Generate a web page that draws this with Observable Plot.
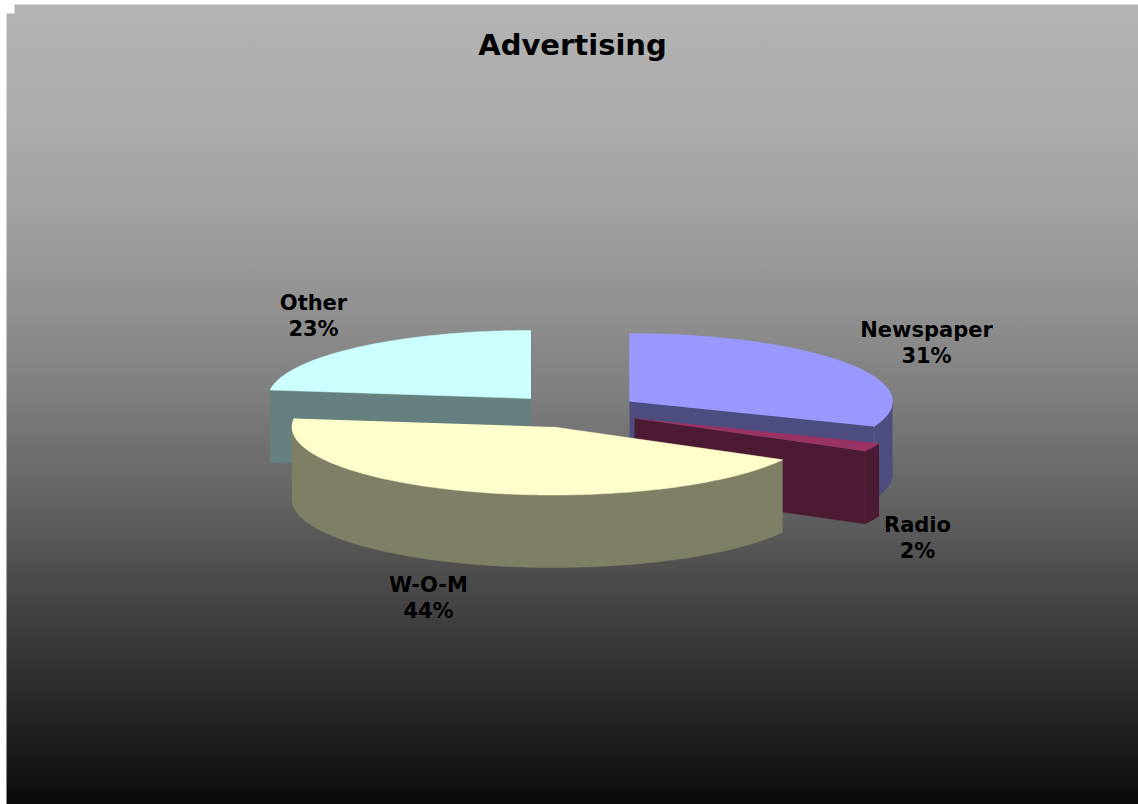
<!DOCTYPE html>
<html>
<head>
<meta charset="utf-8">
<title>Advertising</title>
<style>
  html, body { margin: 0; padding: 0; background: #fff; overflow: hidden; }
  svg { display: block; }
</style>
<script src="https://cdn.jsdelivr.net/npm/d3@7"></script>
<script src="https://cdn.jsdelivr.net/npm/@observablehq/plot@0.6"></script>
</head>
<body>
<script>
// Share of advertising channels, clockwise from twelve o'clock.
const channels = ["Newspaper", "Radio", "W-O-M", "Other"];
const shares = [31, 2, 44, 23];
const topColors = ["#9999ff", "#993366", "#ffffcc", "#ccffff"];
const sideColors = ["#4d4d80", "#4d1a33", "#7f7f66", "#668080"];
const creaseColors = ["#70709a", "#6b3450", "#7f7f66", "#668080"];

// Tilted-disc geometry: each wedge is pulled away from the middle on its own centre.
const width = 1138, height = 804;
const radiusX = 263, radiusY = 68, depth = 72.5;
const wedgeCentres = [[629, 401], [634, 418], [553, 426.5], [530.5, 398]];
const wedgeRadiiX = [radiusX, radiusX, 261.5, radiusX];
const labelAnchors = [[926, 341], [917, 536], [428, 596], [313, 314]];

// Backdrop shading as grey levels down the panel.
const shadeLevels = [[4, "#b3b3b3"], [100, "#aeaeae"], [200, "#a3a3a3"], [300, "#929292"],
  [400, "#7d7d7d"], [500, "#636363"], [600, "#454545"], [700, "#292929"], [804, "#0a0a0a"]];

const wedges = d3.pie().sort(null).startAngle(0).endAngle(2 * Math.PI)(shares);

const faces = [];
function addFace(id, color, points) {
  for (const [x, y] of points) faces.push({id, color, x, y});
}
function rim(i, a) {
  const [cx, cy] = wedgeCentres[i];
  return [cx + wedgeRadiiX[i] * Math.sin(a), cy - radiusY * Math.cos(a)];
}
function arc(i, a0, a1) {
  const n = Math.max(2, Math.ceil((a1 - a0) * 60));
  return d3.range(n + 1).map(k => rim(i, a0 + (a1 - a0) * k / n));
}
const lowered = ([x, y]) => [x, y + depth];

// Painter's order: back wedges first, and in each wedge walls under the top.
[3, 0, 1, 2].forEach(i => {
  const {startAngle: a0, endAngle: a1} = wedges[i];
  const c = wedgeCentres[i];
  const side = sideColors[i];
  if (Math.sin(a1) > 0) {
    addFace(`${i}-end`, side, [c, rim(i, a1), lowered(rim(i, a1)), lowered(c)]);
  }
  if (Math.sin(a0) < 0) {
    addFace(`${i}-start`, side, [c, rim(i, a0), lowered(rim(i, a0)), lowered(c)]);
  }
  // Only the near half of the rim faces the viewer.
  const from = Math.max(a0, Math.PI / 2), to = Math.min(a1, 3 * Math.PI / 2);
  if (from < to) {
    const edge = arc(i, from, to);
    addFace(`${i}-rim`, side, [...edge, ...edge.map(lowered).reverse()]);
    if (Math.sin(a1) > 0) {
      // Thin highlight where the end wall meets the rim.
      addFace(`${i}-crease`, creaseColors[i], [rim(i, a1), lowered(rim(i, a1))]);
    }
  }
  addFace(`${i}-top`, topColors[i], [c, ...arc(i, a0, a1)]);
});

const labels = channels.map((name, i) => ({
  text: `${name}\n${shares[i]}%`,
  x: labelAnchors[i][0],
  y: labelAnchors[i][1]
}));

// Backdrop panel with its small stepped corner, shaded top to bottom.
const panel = [[14, 4], [width, 4], [width, height], [6, height], [6, 13], [14, 13]]
  .map(([x, y]) => ({x, y}));

const shading = () => {
  const defs = d3.create("svg:defs");
  const g = defs.append("linearGradient")
    .attr("id", "panel-shade")
    .attr("gradientUnits", "userSpaceOnUse")
    .attr("x1", 0).attr("x2", 0).attr("y1", 4).attr("y2", height);
  for (const [y, color] of shadeLevels) {
    g.append("stop").attr("offset", (y - 4) / (height - 4)).attr("stop-color", color);
  }
  return defs.node();
};

const fontFamily = "'DejaVu Sans', Verdana, sans-serif";

const chart = Plot.plot({
  width, height,
  margin: 0,
  x: {domain: [0, width], range: [0, width], axis: null},
  y: {domain: [0, height], range: [0, height], axis: null},
  color: {type: "identity"},
  style: {background: "transparent"},
  marks: [
    shading,
    Plot.line(panel, {x: "x", y: "y", fill: "url(#panel-shade)", stroke: "none"}),
    Plot.line(faces, {x: "x", y: "y", z: "id", fill: "color", stroke: "color", strokeWidth: 0.5}),
    Plot.text(["Advertising"], {
      x: () => 572, y: () => 45, text: d => d,
      fontFamily, fontWeight: "bold", fontSize: 29, fill: "#000"
    }),
    Plot.text(labels, {
      x: "x", y: "y", text: "text",
      fontFamily, fontWeight: "bold", fontSize: 21, lineHeight: 1.238, fill: "#000"
    })
  ]
});
document.body.append(chart);
</script>
</body>
</html>
